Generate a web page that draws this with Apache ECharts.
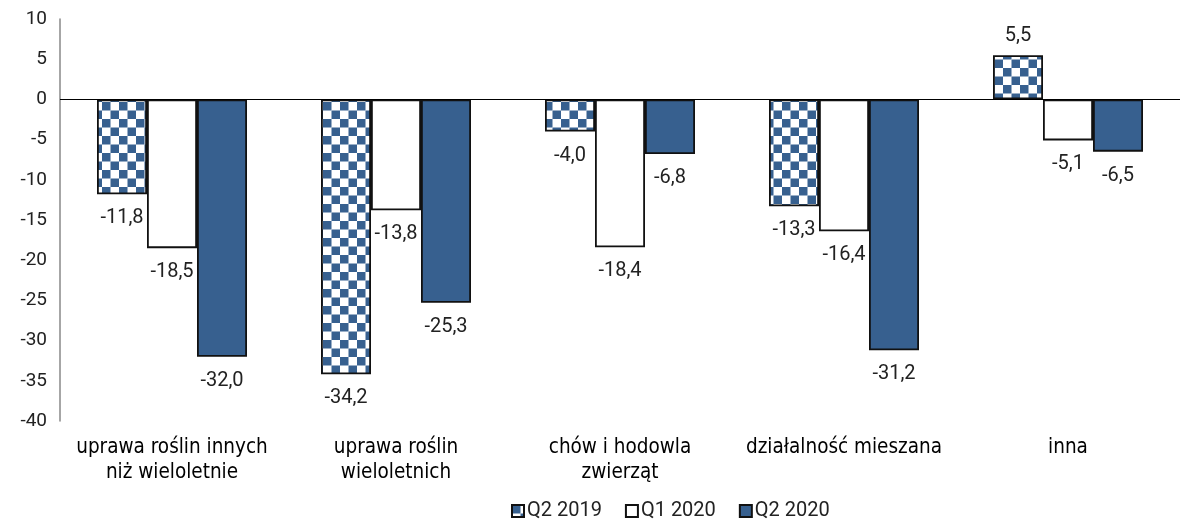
<!DOCTYPE html>
<html>
<head>
<meta charset="utf-8">
<script src="https://cdn.jsdelivr.net/npm/echarts@6/dist/echarts.min.js"></script>
<style>
    html, body { margin: 0; padding: 0; background: #fff; }
    #chart { width: 1180px; height: 528px; }
</style>
</head>
<body>
<div id="chart"></div>
<script>
var categories = [
    "uprawa roślin innych\nniż wieloletnie",
    "uprawa roślin\nwieloletnich",
    "chów i hodowla\nzwierząt",
    "działalność mieszana",
    "inna"
];
var seriesNames = ["Q2 2019", "Q1 2020", "Q2 2020"];
var q2_2019 = [-11.8, -34.2, -4.0, -13.3, 5.5];
var q1_2020 = [-18.5, -13.8, -18.4, -16.4, -5.1];
var q2_2020 = [-32.0, -25.3, -6.8, -31.2, -6.5];
var yTicks = { min: -40, max: 10, interval: 5 };

var BLUE = "#37608f";
var FONT = "Roboto, 'Liberation Sans', sans-serif";

// checkered fill for Q2 2019
function checker()
{
    var c = document.createElement("canvas");
    var s = 8.5;
    c.width = 17;
    c.height = 17;
    var ctx = c.getContext("2d");
    ctx.fillStyle = "#ffffff";
    ctx.fillRect(0, 0, 17, 17);
    ctx.fillStyle = BLUE;
    ctx.fillRect(0, 0, s, s);
    ctx.fillRect(s, s, s, s);
    return c;
}

function items(values)
{
    return values.map(function (v) {
        return {
            value: v,
            label: v < 0 ? { position: "bottom", distance: 14 }
                         : { position: "top", distance: 9 }
        };
    });
}

function barLabel()
{
    return {
        show: true,
        fontFamily: FONT,
        fontSize: 20,
        color: "#222",
        formatter: function (p) {
            return p.value.toFixed(1).replace(".", ",");
        }
    };
}

var pattern = { image: checker(), repeat: "repeat" };
var fills = [pattern, "#ffffff", BLUE];
var values = [q2_2019, q1_2020, q2_2020];

var series = seriesNames.map(function (name, i) {
    var s = {
        name: name,
        type: "bar",
        barWidth: 50,
        barGap: "0%",
        data: items(values[i]),
        itemStyle: {
            color: fills[i],
            borderColor: "#111",
            borderWidth: 1.8
        },
        label: barLabel(),
        emphasis: { disabled: true }
    };
    if (i === 0) {
        s.markLine = {
            silent: true,
            symbol: "none",
            label: { show: false },
            lineStyle: { color: "#000", width: 1, type: "solid" },
            data: [{ yAxis: 0 }]
        };
    }
    return s;
});

var mychart = echarts.init(document.getElementById("chart"));
var option = {
    animation: false,
    grid: { left: 60, right: -4, top: 19, bottom: 107 },
    legend: {
        bottom: 2,
        left: 506,
        itemWidth: 12,
        itemHeight: 12,
        itemGap: 23,
        icon: "rect",
        textStyle: { fontFamily: FONT, fontSize: 20, color: "#222", padding: [0, 0, 0, -2] },
        data: seriesNames
    },
    xAxis: {
        type: "category",
        data: categories,
        axisLine: { show: false },
        axisTick: { show: false },
        axisLabel: {
            interval: 0,
            margin: 14,
            fontFamily: "'DejaVu Sans Condensed', 'Liberation Sans', sans-serif",
            fontSize: 20.5,
            lineHeight: 25,
            color: "#000"
        }
    },
    yAxis: {
        type: "value",
        min: yTicks.min,
        max: yTicks.max,
        interval: yTicks.interval,
        axisLine: { show: true, lineStyle: { color: "#888", width: 1.5 } },
        axisTick: { show: false },
        splitLine: { show: false },
        axisLabel: {
            margin: 13,
            fontFamily: FONT,
            fontSize: 19,
            color: "#222"
        }
    },
    series: series
};
mychart.setOption(option);
</script>
</body>
</html>
